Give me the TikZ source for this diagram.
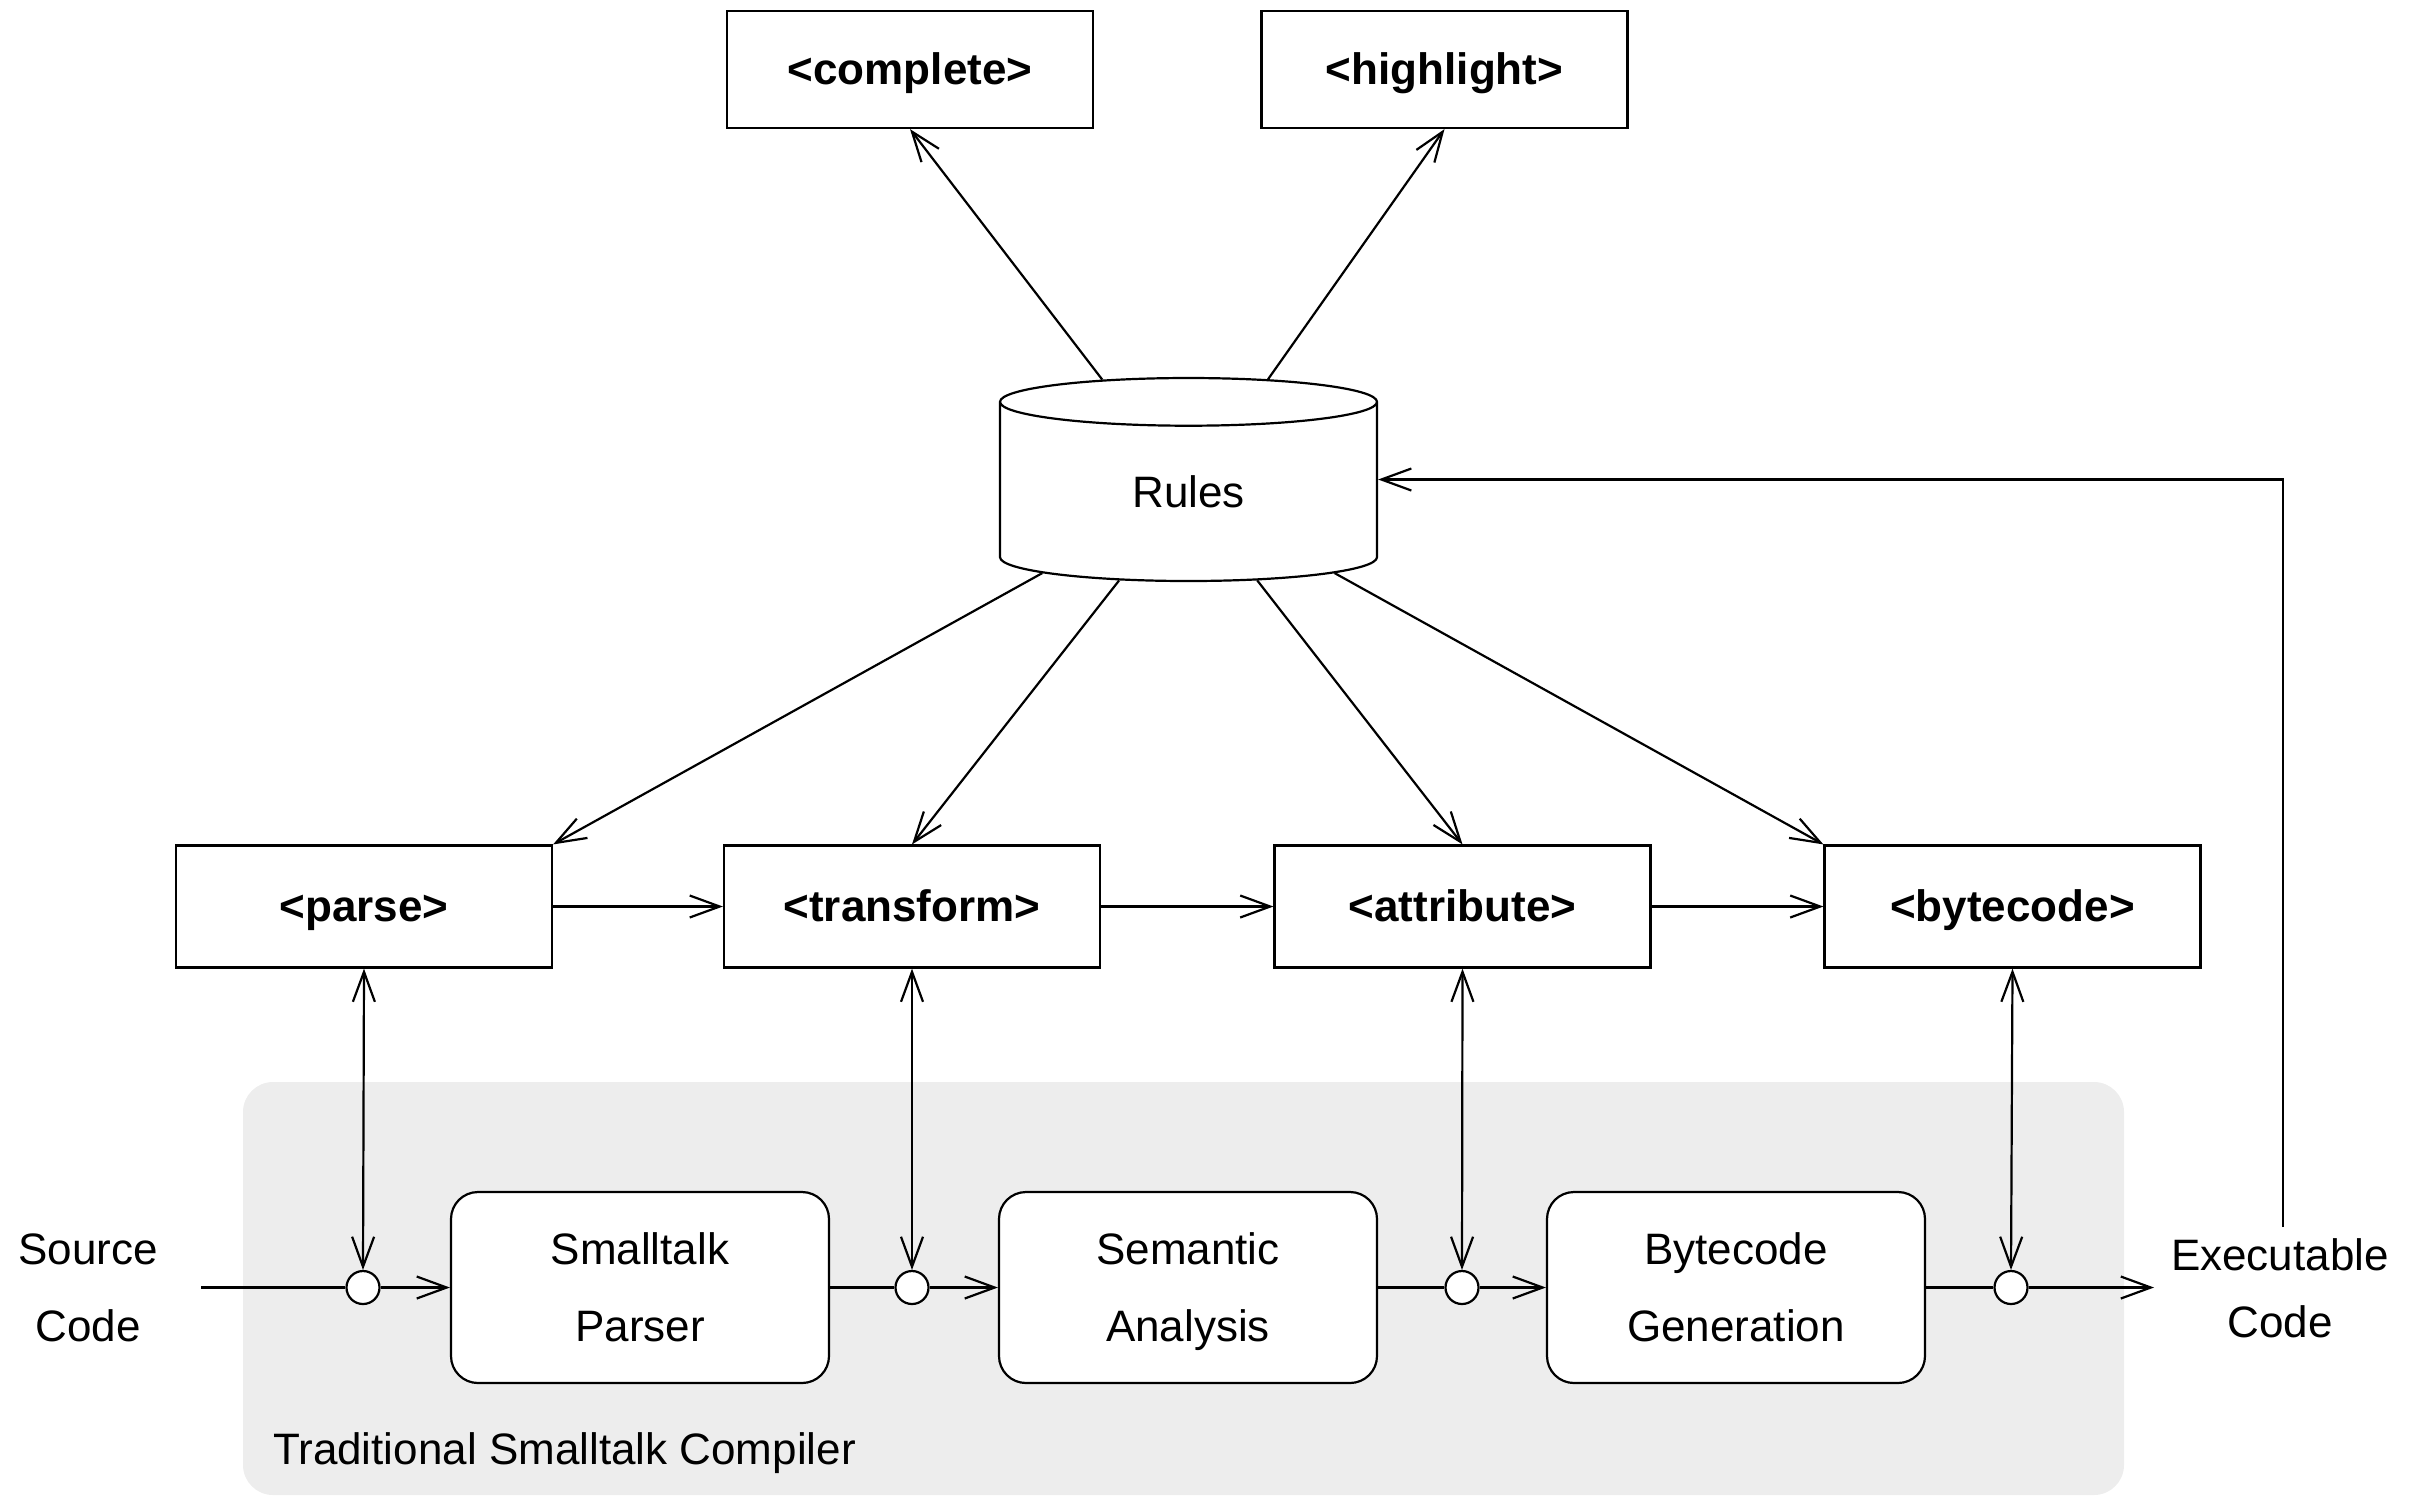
\documentclass[tikz,border=0pt]{standalone}
\usepackage{fontspec}
\setmainfont{Liberation Sans}
\usetikzlibrary{arrows.meta,shapes.geometric}
\definecolor{panel}{RGB}{237,237,237}
\begin{document}
\begin{tikzpicture}[x=0.3pt,y=-0.3pt,
  line width=0.66pt,
  every node/.style={font=\fontsize{13.2}{23.1}\selectfont},
  topbox/.style={draw,rectangle,minimum width=109.8pt,minimum height=35.1pt,inner sep=0pt,font=\fontsize{13.2}{23.1}\selectfont\bfseries},
  midbox/.style={draw,rectangle,minimum width=112.8pt,minimum height=36.6pt,inner sep=0pt,font=\fontsize{13.2}{23.1}\selectfont\bfseries},
  stagebox/.style={draw,fill=white,rectangle,rounded corners=8.1pt,minimum width=113.4pt,minimum height=57.3pt,inner sep=0pt,align=center},
  joint/.style={draw,fill=white,circle,minimum size=9.9pt,inner sep=0pt},
  arr/.style={-{Straight Barb[length=9pt,width=6.6pt]}},
  darr/.style={{Straight Barb[length=9pt,width=6.6pt]}-{Straight Barb[length=9pt,width=6.6pt]}}
]
\useasboundingbox (0,0) rectangle (2424,1497);
% gray panel
\fill[panel,rounded corners=9pt] (243,1082) rectangle (2124,1495);
\node[anchor=west,inner sep=0pt] (panellabel) at (272,1449) {\strut Traditional Smalltalk Compiler};

% top boxes
\node[topbox] (complete) at (910,69.5) {\strut <complete>};
\node[topbox] (highlight) at (1444.5,69.5) {\strut <highlight>};

% rules cylinder
\node[draw,fill=white,cylinder,shape border rotate=90,aspect=0.424,minimum width=113.1pt,minimum height=60.9pt,inner sep=0pt,anchor=shape center] (rules) at (1188.5,479.5) {\strut Rules};

% middle boxes
\node[midbox] (parse) at (364,906.5) {\strut <parse>};
\node[midbox] (transform) at (912,906.5) {\strut <transform>};
\node[midbox] (attribute) at (1462.5,906.5) {\strut <attribute>};
\node[midbox] (bytecode) at (2012.5,906.5) {\strut <bytecode>};

% stages
\node[stagebox] (sp) at (640,1287.5) {\strut Smalltalk\\\strut Parser};
\node[stagebox] (sa) at (1188,1287.5) {\strut Semantic\\\strut Analysis};
\node[stagebox] (bg) at (1736,1287.5) {\strut Bytecode\\\strut Generation};

% joints
\node[joint] (c1) at (363,1287.5) {};
\node[joint] (c2) at (912,1287.5) {};
\node[joint] (c3) at (1462,1287.5) {};
\node[joint] (c4) at (2011,1287.5) {};

% labels
\node[align=center,inner sep=0pt] (src) at (88,1287.5) {\strut Source\\\strut Code};
\node[align=center,inner sep=0pt,font=\fontsize{13.2}{20.1}\selectfont] (exe) at (2280,1291) {\strut Executable\\\strut Code};
\coordinate (inp) at (201,1287.5);
\coordinate (outp) at (2154,1287.5);
\coordinate (exetop) at (2283,1227);

% rules connectors
\draw[arr] (rules) -- (complete.south);
\draw[arr] (rules) -- (highlight.south);
\draw[arr] (rules) -- (parse.north east);
\draw[arr] (rules) -- (transform.north);
\draw[arr] (rules) -- (attribute.north);
\draw[arr] (rules) -- (bytecode.north west);

% pipeline of rule boxes
\draw[arr] (parse) -- (transform);
\draw[arr] (transform) -- (attribute);
\draw[arr] (attribute) -- (bytecode);

% vertical double arrows
\draw[darr] (parse.south) -- (c1.north);
\draw[darr] (transform.south) -- (c2.north);
\draw[darr] (attribute.south) -- (c3.north);
\draw[darr] (bytecode.south) -- (c4.north);

% compiler flow
\draw (inp) -- (c1.west);
\draw[arr] (c1) -- (sp);
\draw (sp) -- (c2);
\draw[arr] (c2) -- (sa);
\draw (sa) -- (c3);
\draw[arr] (c3) -- (bg);
\draw (bg) -- (c4);
\draw[arr] (c4) -- (outp);

% feedback
\draw[arr] (exetop) |- (rules.shape center -| rules.east);
\end{tikzpicture}
\end{document}
